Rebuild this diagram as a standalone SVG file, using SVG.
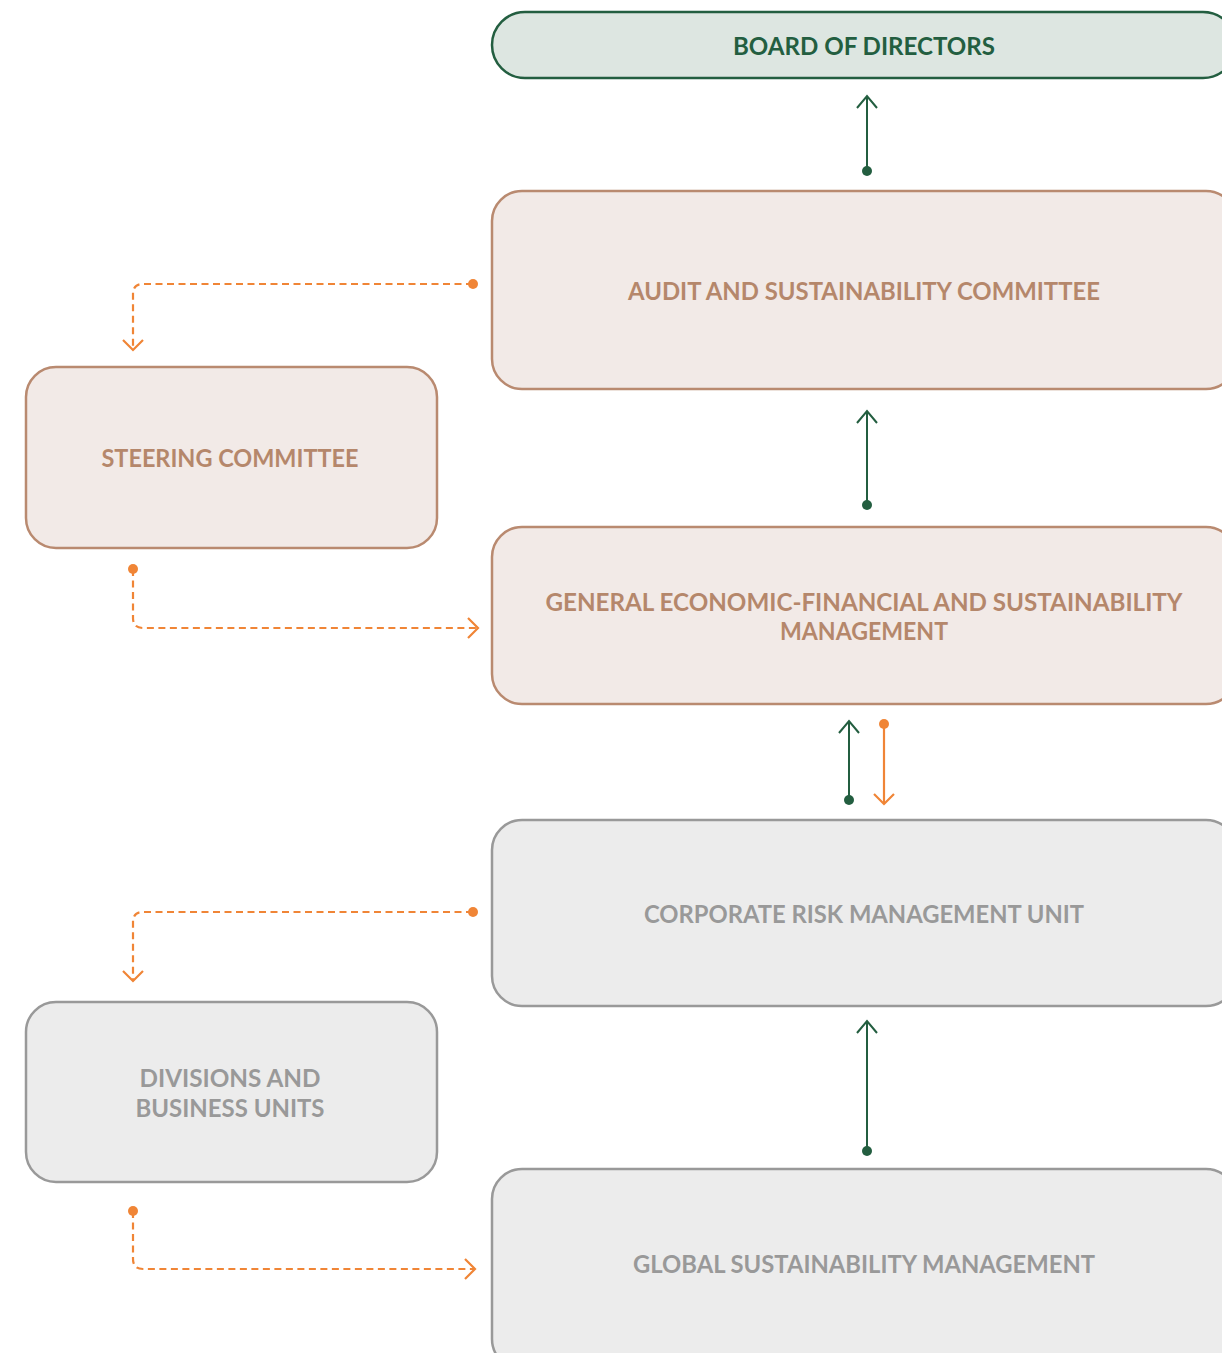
<svg xmlns="http://www.w3.org/2000/svg" width="1222" height="1353" viewBox="0 0 1222 1353">
<style>
text{font-family:Lato,"Open Sans","Liberation Sans",sans-serif;font-weight:700;font-size:24px;text-anchor:middle}
.g rect{fill:#dde6e1;stroke:#235e40;stroke-width:2.5}
.g text{fill:#235e40}
.b rect{fill:#f2eae7;stroke:#b98a70;stroke-width:2.5}
.b text{fill:#b5876b}
.y rect{fill:#ececec;stroke:#999;stroke-width:2.5}
.y text{fill:#999}
.sg{stroke:#235e40;stroke-width:2;fill:none}
.so{stroke:#f08536;stroke-width:2.2;fill:none}
.dash{stroke-dasharray:7 4.5}
</style>
<defs>
<marker id="ag" markerUnits="userSpaceOnUse" markerWidth="30" markerHeight="30" refX="0" refY="0" viewBox="-15 -15 30 30" orient="auto" overflow="visible"><path d="M-12,-10 L0,0 L-12,10" fill="none" stroke="#235e40" stroke-width="2"/></marker>
<marker id="ao" markerUnits="userSpaceOnUse" markerWidth="30" markerHeight="30" refX="0" refY="0" viewBox="-15 -15 30 30" orient="auto" overflow="visible"><path d="M-10,-10 L0,0 L-10,10" fill="none" stroke="#f08536" stroke-width="2.2"/></marker>
<marker id="dg" markerUnits="userSpaceOnUse" markerWidth="12" markerHeight="12" refX="0" refY="0" viewBox="-6 -6 12 12" overflow="visible"><circle r="5" fill="#235e40"/></marker>
<marker id="do" markerUnits="userSpaceOnUse" markerWidth="12" markerHeight="12" refX="0" refY="0" viewBox="-6 -6 12 12" overflow="visible"><circle r="5" fill="#f08536"/></marker>
</defs>
<g id="board" class="g"><rect x="492" y="12" width="744" height="66" rx="33"/><text x="864" y="55" textLength="262" lengthAdjust="spacingAndGlyphs">BOARD OF DIRECTORS</text></g>
<g id="audit" class="b"><rect x="492" y="191" width="744" height="198" rx="30"/><text x="864" y="300" textLength="472" lengthAdjust="spacingAndGlyphs">AUDIT AND SUSTAINABILITY COMMITTEE</text></g>
<g id="steering" class="b"><rect x="26" y="367" width="411" height="181" rx="30"/><text x="230" y="467" textLength="257" lengthAdjust="spacingAndGlyphs">STEERING COMMITTEE</text></g>
<g id="general" class="b"><rect x="492" y="527" width="744" height="177" rx="30"/><text x="864" y="611" textLength="637" lengthAdjust="spacingAndGlyphs">GENERAL ECONOMIC-FINANCIAL AND SUSTAINABILITY</text><text x="864" y="640" textLength="168" lengthAdjust="spacingAndGlyphs">MANAGEMENT</text></g>
<g id="corporate" class="y"><rect x="492" y="820" width="744" height="186" rx="30"/><text x="864" y="923" textLength="440" lengthAdjust="spacingAndGlyphs">CORPORATE RISK MANAGEMENT UNIT</text></g>
<g id="divisions" class="y"><rect x="26" y="1002" width="411" height="180" rx="30"/><text x="230" y="1087" textLength="181" lengthAdjust="spacingAndGlyphs">DIVISIONS AND</text><text x="230" y="1117" textLength="189" lengthAdjust="spacingAndGlyphs">BUSINESS UNITS</text></g>
<g id="global" class="y"><rect x="492" y="1169" width="744" height="200" rx="30"/><text x="864" y="1273" textLength="462" lengthAdjust="spacingAndGlyphs">GLOBAL SUSTAINABILITY MANAGEMENT</text></g>
<g id="connectors">
<path class="sg" d="M867,171 L867,96" marker-start="url(#dg)" marker-end="url(#ag)"/>
<path class="sg" d="M867,505 L867,411" marker-start="url(#dg)" marker-end="url(#ag)"/>
<path class="sg" d="M849,800 L849,721" marker-start="url(#dg)" marker-end="url(#ag)"/>
<path class="so" d="M884,724 L884,804" marker-start="url(#do)" marker-end="url(#ao)"/>
<path class="sg" d="M867,1151 L867,1021" marker-start="url(#dg)" marker-end="url(#ag)"/>
<path class="so dash" d="M473,284 L143,284 Q133,284 133,294 L133,350" marker-start="url(#do)" marker-end="url(#ao)"/>
<path class="so dash" d="M133,569 L133,618 Q133,628 143,628 L478,628" marker-start="url(#do)" marker-end="url(#ao)"/>
<path class="so dash" d="M473,912 L143,912 Q133,912 133,922 L133,981" marker-start="url(#do)" marker-end="url(#ao)"/>
<path class="so dash" d="M133,1211 L133,1259 Q133,1269 143,1269 L475,1269" marker-start="url(#do)" marker-end="url(#ao)"/>
</g>
</svg>
